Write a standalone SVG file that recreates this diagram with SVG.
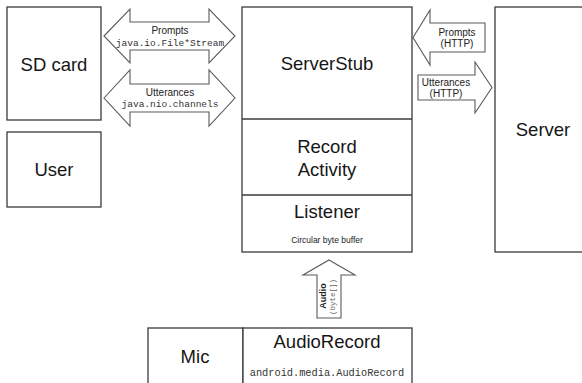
<svg xmlns="http://www.w3.org/2000/svg" width="582" height="383" viewBox="0 0 582 383">
  <style>
    .box { fill: #ffffff; stroke: #3a3a3a; stroke-width: 1.3; }
    .arrow { fill: #ffffff; stroke: #5a5a5a; stroke-width: 1.1; stroke-linejoin: miter; }
    .big { font-family: "Liberation Sans", Arial, sans-serif; font-size: 18.5px; fill: #161616; text-anchor: middle; }
    .lbl { font-family: "Liberation Sans", Arial, sans-serif; font-size: 10px; fill: #222222; text-anchor: middle; }
    .mono { font-family: "Liberation Mono", "Courier New", monospace; font-size: 9.5px; fill: #333333; text-anchor: middle; }
  </style>
  <rect width="582" height="383" fill="#ffffff"/>

  <g id="sdcard">
    <rect class="box" x="7" y="7" width="94" height="113"/>
    <text class="big" x="54" y="71">SD card</text>
  </g>

  <g id="user">
    <rect class="box" x="7" y="132" width="94" height="75"/>
    <text class="big" x="54" y="176">User</text>
  </g>

  <g id="serverstub">
    <rect class="box" x="242" y="7" width="170" height="245"/>
    <line class="box" x1="242" y1="119" x2="412" y2="119"/>
    <line class="box" x1="242" y1="195" x2="412" y2="195"/>
    <text class="big" x="327" y="70">ServerStub</text>
  </g>

  <g id="recordactivity">
    <text class="big" x="327" y="153">Record</text>
    <text class="big" x="327" y="176">Activity</text>
  </g>

  <g id="listener">
    <text class="big" x="327" y="218">Listener</text>
    <text class="lbl" x="327" y="243" style="font-size:8.5px">Circular byte buffer</text>
  </g>

  <g id="server">
    <rect class="box" x="495" y="7" width="100" height="245"/>
    <text class="big" x="543" y="136">Server</text>
  </g>

  <g id="mic">
    <rect class="box" x="148" y="328" width="95" height="62"/>
    <text class="big" x="195" y="363">Mic</text>
  </g>

  <g id="audiorecord">
    <rect class="box" x="243" y="328" width="169" height="62"/>
    <text class="big" x="327" y="348">AudioRecord</text>
    <text class="mono" x="327" y="376" style="font-size:10.3px">android.media.AudioRecord</text>
  </g>

  <g id="connectors">
    <!-- SD card <-> ServerStub: prompts -->
    <polygon class="arrow" points="104,36 130,9 130,22 209,22 209,9 235,36 209,63 209,50 130,50 130,63"/>
    <text class="lbl" x="170" y="34">Prompts</text>
    <text class="mono" x="170" y="46">java.io.File*Stream</text>

    <!-- SD card <-> ServerStub: utterances -->
    <polygon class="arrow" points="104,98 130,70 130,84 209,84 209,70 235,98 209,126 209,112 130,112 130,126"/>
    <text class="lbl" x="170" y="96">Utterances</text>
    <text class="mono" x="170" y="107">java.nio.channels</text>

    <!-- Server -> ServerStub -->
    <polygon class="arrow" points="413,37.5 430,10 430,23 485,23 485,52 430,52 430,65"/>
    <text class="lbl" x="457" y="36">Prompts</text>
    <text class="lbl" x="457" y="47">(HTTP)</text>

    <!-- ServerStub -> Server -->
    <polygon class="arrow" points="418,75 475,75 475,62 492,87.5 475,113 475,100 418,100"/>
    <text class="lbl" x="446" y="86">Utterances</text>
    <text class="lbl" x="446" y="97">(HTTP)</text>

    <!-- AudioRecord -> Listener -->
    <polygon class="arrow" points="329,260 355,275 341,275 341,318 317,318 317,275 303,275"/>
    <text class="lbl" transform="translate(325.5,296) rotate(-90)" style="font-size:9px;font-weight:bold">Audio</text>
    <text class="mono" transform="translate(334.5,297) rotate(-90)" style="font-size:7.5px;fill:#666666">(byte[])</text>
  </g>
</svg>
